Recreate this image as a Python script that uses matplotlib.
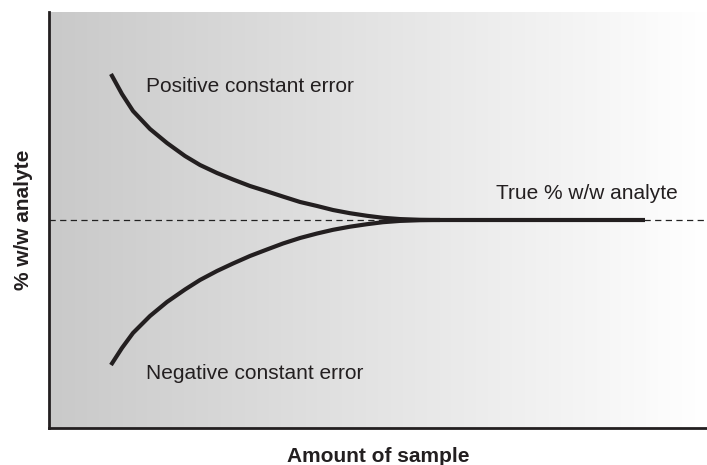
import matplotlib
matplotlib.use("Agg")
import matplotlib.pyplot as plt
from matplotlib.colors import LinearSegmentedColormap
import numpy as np

plt.rcParams['font.family'] = ['Liberation Sans', 'DejaVu Sans']

true_value = 50.0
amount = [9.42, 11.09, 12.77, 15.35, 17.93, 20.67, 22.95, 25.53, 27.96, 30.55, 33.13,
          35.56, 38.15, 40.73, 43.16, 45.74, 48.33, 50.76, 53.34, 56.38, 59.42]
positive_error = [85.10, 80.29, 76.20, 71.88, 68.51, 65.38, 63.22, 61.30, 59.74, 58.17, 56.88,
                  55.63, 54.33, 53.37, 52.40, 51.63, 51.01, 50.53, 50.22, 50.05, 50.0]
negative_error = [15.14, 19.23, 22.84, 26.92, 30.29, 33.29, 35.58, 37.74, 39.54, 41.35, 42.91,
                  44.35, 45.67, 46.75, 47.64, 48.39, 48.99, 49.47, 49.78, 49.95, 50.0]
# beyond convergence the result stays at the true value
flat_amount = [59.42, 90.58]
flat_value = [50.0, 50.0]

fig = plt.figure(figsize=(7.07, 4.65), dpi=100)
ax = fig.add_axes([0.0693, 0.0796, 0.9307, 0.8946])
ax.set_xlim(0, 100)
ax.set_ylim(0, 100)

# grey-to-white gradient background
cmap = LinearSegmentedColormap.from_list('bg', ['#c9c9c9', '#ffffff'])
grad = np.linspace(0, 1, 256).reshape(1, -1)
ax.imshow(grad, cmap=cmap, extent=[0, 100, 0, 100], aspect='auto', zorder=0)

ax.axhline(true_value, color='#222222', lw=0.9, ls=(0, (5, 3.5)), zorder=1)
line_kw = dict(color='#231f20', lw=3.0, solid_capstyle='butt', solid_joinstyle='round', zorder=2)
ax.plot(amount, positive_error, **line_kw)
ax.plot(amount, negative_error, **line_kw)
ax.plot(flat_amount, flat_value, **line_kw)

txt = dict(fontsize=15, color='#231f20', va='baseline', ha='left')
ax.text(14.74, 80.77, 'Positive constant error', **txt)
ax.text(14.74, 11.78, 'Negative constant error', **txt)
ax.text(67.93, 55.05, 'True % w/w analyte', **txt)

lab = dict(fontsize=15, fontweight='bold', color='#231f20')
fig.text(378 / 707, 3 / 465, 'Amount of sample', ha='center', va='baseline', **lab)
fig.text(23.5 / 707, 245 / 465, '% w/w analyte', ha='center', va='center', rotation=90, **lab)

ax.set_xticks([])
ax.set_yticks([])
for side in ['top', 'right']:
    ax.spines[side].set_visible(False)
for side in ['left', 'bottom']:
    ax.spines[side].set_linewidth(2)
    ax.spines[side].set_color('#231f20')

fig.savefig('out.png', dpi=100)
